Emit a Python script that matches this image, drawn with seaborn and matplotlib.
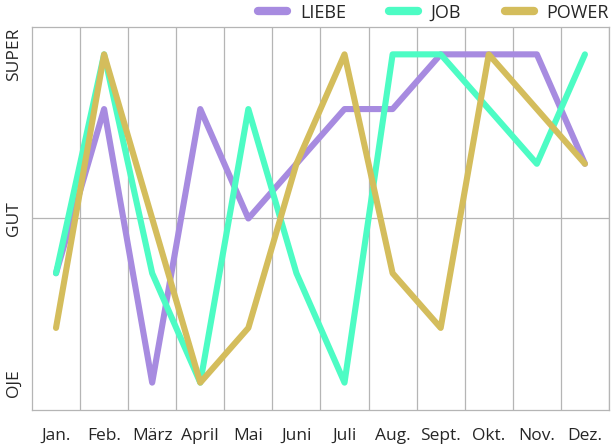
import matplotlib
matplotlib.use("Agg")
import matplotlib.pyplot as plt
import seaborn as sns
import pandas as pd

months = ["Jan.", "Feb.", "März", "April", "Mai", "Juni", "Juli",
          "Aug.", "Sept.", "Okt.", "Nov.", "Dez."]
liebe = [2, 5, 0, 5, 3, 4, 5, 5, 6, 6, 6, 4]
job = [2, 6, 2, 0, 5, 2, 0, 6, 6, 5, 4, 6]
power = [1, 6, 3, 0, 1, 4, 6, 2, 1, 6, 5, 4]
level_ticks = [0, 3, 6]
level_labels = ["OJE", "GUT", "SUPER"]

df = pd.DataFrame({"Monat": months, "LIEBE": liebe, "JOB": job, "POWER": power})
long = df.melt(id_vars="Monat", var_name="Serie", value_name="Wert")

sns.set_style("white")
plt.rcParams["font.family"] = ["Open Sans", "DejaVu Sans"]

fig = plt.figure(figsize=(6.16, 4.44), dpi=100)
ax = fig.add_axes([0.0519, 0.0766, 0.9367, 0.8626])

palette = {"LIEBE": "#a78be0", "JOB": "#4dfcc4", "POWER": "#d4bd5c"}
sns.lineplot(data=long, x="Monat", y="Wert", hue="Serie", palette=palette,
             linewidth=4.4, sort=False, ax=ax)

ax.set_xlim(-0.5, 11.5)
ax.set_ylim(-0.5, 6.5)
for i in range(12):
    ax.axvline(i + 0.5, color="#b5b5b5", lw=0.9, zorder=0)
ax.axhline(3, color="#b5b5b5", lw=0.9, zorder=0)

ax.set_yticks(level_ticks)
ax.set_yticklabels(level_labels, rotation=90, va="center", fontsize=12.5)
ax.set_xticks(range(12))
ax.set_xticklabels(months, fontsize=12.5)
ax.tick_params(axis="x", length=0, pad=13)
ax.tick_params(axis="y", length=0, pad=7)
ax.set_xlabel("")
ax.set_ylabel("")
for s in ax.spines.values():
    s.set_color("#b5b5b5")
    s.set_linewidth(0.9)

leg = ax.legend(loc="lower right", bbox_to_anchor=(1.012, 0.995), ncol=3,
                frameon=False, fontsize=13, handlelength=1.6,
                columnspacing=2.4, handletextpad=0.7, borderaxespad=0)
for line in leg.get_lines():
    line.set_linewidth(6)
    line.set_solid_capstyle("round")

fig.savefig("out.png", dpi=100)
